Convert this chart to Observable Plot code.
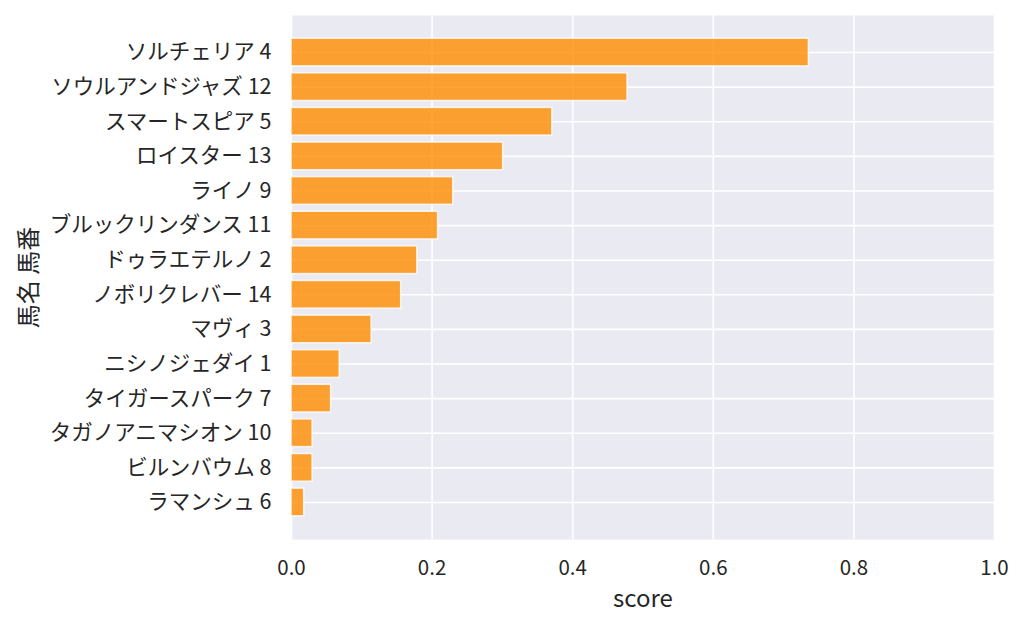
<!DOCTYPE html>
<html>
<head>
<meta charset="utf-8">
<script src="https://cdn.jsdelivr.net/npm/d3@7"></script>
<script src="https://cdn.jsdelivr.net/npm/@observablehq/plot@0.6"></script>
<style>
  html, body { margin: 0; padding: 0; background: #ffffff; }
  #chart svg { display: block; }
</style>
</head>
<body>
<div id="chart"></div>
<script>
const horseNames = ["ソルチェリア", "ソウルアンドジャズ", "スマートスピア", "ロイスター", "ライノ", "ブルックリンダンス", "ドゥラエテルノ", "ノボリクレバー", "マヴィ", "ニシノジェダイ", "タイガースパーク", "タガノアニマシオン", "ビルンバウム", "ラマンシュ"];
const horseNumbers = [4, 12, 5, 13, 9, 11, 2, 14, 3, 1, 7, 10, 8, 6];
const scores = [0.736, 0.478, 0.371, 0.301, 0.230, 0.2085, 0.179, 0.156, 0.114, 0.0686, 0.0563, 0.030, 0.030, 0.018];
const xTicks = [0, 0.2, 0.4, 0.6, 0.8, 1.0];

const data = horseNames.map((n, i) => ({label: `${n} ${horseNumbers[i]}`, score: scores[i]}));
const order = data.map(d => d.label);

const chart = Plot.plot({
  width: 1024,
  height: 627,
  marginLeft: 291,
  marginRight: 30,
  marginTop: 15,
  marginBottom: 88,
  style: {fontFamily: "'Noto Sans CJK JP', 'Noto Sans', sans-serif", fontSize: "21.5px", color: "#262626", background: "#ffffff"},
  x: {domain: [0, 1], ticks: xTicks, tickFormat: d3.format(".1f")},
  y: {domain: order, paddingInner: 0.2, paddingOuter: 0.67, round: false},
  marks: [
    Plot.frame({fill: "#EAEAF2", stroke: null}),
    Plot.gridX({ticks: xTicks, stroke: "#ffffff", strokeOpacity: 1, strokeWidth: 1.6}),
    Plot.gridY({stroke: "#ffffff", strokeOpacity: 1, strokeWidth: 1.6}),
    Plot.barX(data, {x: "score", y: "label", fill: "darkorange", fillOpacity: 0.8, stroke: "#ffffff", strokeOpacity: 0.8, strokeWidth: 1.5}),
    Plot.axisX({ticks: xTicks, tickFormat: d3.format(".1f"), tickSize: 0, tickPadding: 21, fontSize: 20.5, label: null, fill: "#262626"}),
    Plot.axisX({ticks: [], tickSize: 0, label: "score", labelAnchor: "center", labelOffset: 67, labelArrow: "none", fontSize: 24, fill: "#262626"}),
    Plot.axisY({tickSize: 0, tickPadding: 20, label: null, fill: "#262626"}),
    Plot.axisY({ticks: [], tickSize: 0, label: "馬名 馬番", labelAnchor: "center", labelOffset: 272, labelArrow: "none", fontSize: 24, fill: "#262626"})
  ]
});
document.getElementById("chart").appendChild(chart);
</script>
</body>
</html>
